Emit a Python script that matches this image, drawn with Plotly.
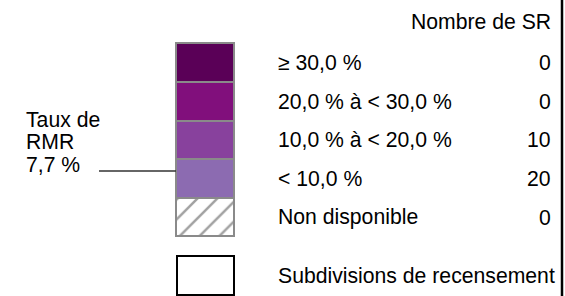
import plotly.graph_objects as go

# ---- data ----
categories = ["≥ 30,0 %", "20,0 % à < 30,0 %", "10,0 % à < 20,0 %", "< 10,0 %", "Non disponible"]
counts = [0, 0, 10, 20, 0]
colors = ["#5a0057", "#810f7c", "#88419d", "#8c6bb1", "#ffffff"]
patterns = ["", "", "", "", "/"]
header = "Nombre de SR"
boundary_label = "Subdivisions de recensement"
rate_label = ["Taux de", "RMR", "7,7 %"]

# ---- layout geometry (pixels) ----
W, H = 565, 296
row_top0 = 43.3
row_h = 38.6
box_x = 205
box_w = 58
label_x = 276
num_x = 553
FONT = "Liberation Sans, Arial, sans-serif"
fs = 21.2

tops = [row_top0 + i * row_h for i in range(len(categories))]
centers = [t + row_h / 2 for t in tops]

fig = go.Figure()
fig.add_trace(go.Bar(
    x=[box_x] * len(categories), y=[row_h] * len(categories), base=tops,
    width=box_w,
    marker=dict(color=colors, line=dict(color="#8a8a8a", width=2),
                pattern=dict(shape=patterns, fgcolor="#6a6a6a", bgcolor="#ffffff",
                             size=14, solidity=0.18)),
    hoverinfo="skip", showlegend=False,
))
# boundary box
bnd_top = 256
fig.add_trace(go.Bar(
    x=[box_x], y=[38.5], base=[bnd_top], width=box_w - 1,
    marker=dict(color="#ffffff", line=dict(color="#000000", width=2)),
    hoverinfo="skip", showlegend=False,
))

ann = []
def txt(x, y, s, anchor):
    ann.append(dict(x=x, y=y, xref="x", yref="y", text=s, showarrow=False,
                    xanchor=anchor, yanchor="middle",
                    font=dict(family=FONT, size=fs, color="#000000")))

txt(num_x, 21, header, "right")
for c, n, yc in zip(categories, counts, centers):
    txt(label_x, yc, c, "left")
    txt(num_x, yc, str(n), "right")
txt(label_x, bnd_top + 19.5, boundary_label, "left")
for i, s in enumerate(rate_label):
    txt(24, 119 + i * 22.6, s, "left")

shapes = [
    dict(type="line", xref="x", yref="y", x0=99, x1=176, y0=171, y1=171,
         line=dict(color="#333333", width=1.3)),
    dict(type="line", xref="x", yref="y", x0=562, x1=562, y0=0, y1=H,
         line=dict(color="#000000", width=2.5)),
]

fig.update_layout(
    width=W, height=H, margin=dict(l=0, r=0, t=0, b=0),
    paper_bgcolor="#ffffff", plot_bgcolor="#ffffff",
    xaxis=dict(range=[0, W], visible=False, fixedrange=True),
    yaxis=dict(range=[H, 0], visible=False, fixedrange=True),
    annotations=ann, shapes=shapes, barmode="overlay", bargap=0,
)
fig.write_html(
    "out.html",
    config={"displayModeBar": False},
    post_script="document.body.style.margin='0';document.body.style.overflow='hidden';",
)
